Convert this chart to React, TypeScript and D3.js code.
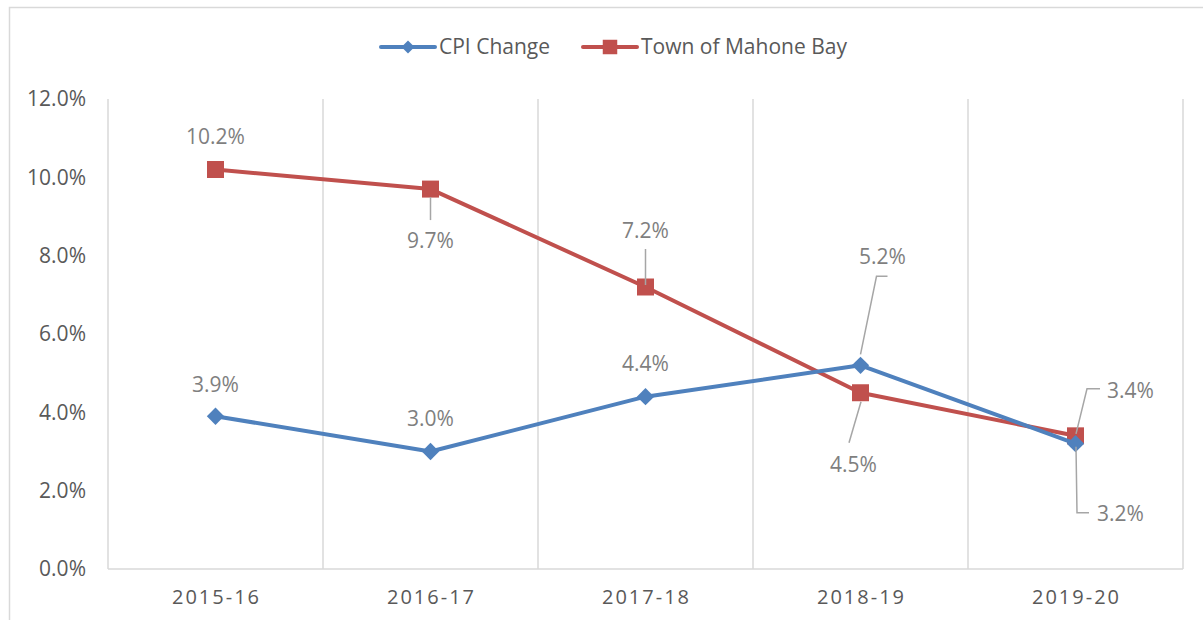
import React, { useRef, useEffect } from 'react';
import * as d3 from 'd3';

const years = ['2015-16', '2016-17', '2017-18', '2018-19', '2019-20'];
const cpiChange = [3.9, 3.0, 4.4, 5.2, 3.2];
const mahoneBay = [10.2, 9.7, 7.2, 4.5, 3.4];
const yTicks = [0, 2, 4, 6, 8, 10, 12];

// label placement relative to each point (text centre + leader polyline)
const cpiLabels = [
  { dx: 0, dy: -32, leader: null },
  { dx: 0, dy: -33, leader: null },
  { dx: 0, dy: -33, leader: null },
  { dx: 22, dy: -109, leader: [[0, -11], [16, -89], [27, -89]] },
  { dx: 45, dy: 70, leader: [[0.5, 3], [1.5, 69], [13.5, 69]] },
];
const townLabels = [
  { dx: 0, dy: -33, leader: null },
  { dx: 0, dy: 52, leader: [[0, 8], [0, 31]] },
  { dx: 0, dy: -56, leader: [[0, -38], [0, -2]] },
  { dx: -7, dy: 72, leader: [[0.5, 9], [-11.5, 50]] },
  { dx: 55, dy: -45, leader: [[0.5, -2], [11.5, -47], [24.5, -47]] },
];

const BLUE = '#4F81BD';
const RED = '#C0504D';
const FONT = '"Open Sans", sans-serif';

const App = () => {
  const svgRef = useRef(null);

  useEffect(() => {
    const width = 1203;
    const height = 620;
    const left = 108;
    const right = 1183;
    const top = 99;
    const bottom = 569;

    const svg = d3.select(svgRef.current);
    svg.selectAll('*').remove();
    svg.attr('width', width).attr('height', height);

    svg
      .append('rect')
      .attr('x', 9.5)
      .attr('y', 7.5)
      .attr('width', 1300)
      .attr('height', 700)
      .attr('fill', '#fff')
      .attr('stroke', '#D9D9D9')
      .attr('stroke-width', 1.5);

    const xScale = d3.scaleBand().domain(years).range([left, right]).padding(0);
    const yScale = d3.scaleLinear().domain([0, 12]).range([bottom, top]);
    const cx = (i) => xScale(years[i]) + xScale.bandwidth() / 2;

    // vertical gridlines at category boundaries
    const bounds = years.map((y) => xScale(y)).concat([right]);
    svg
      .selectAll('.vgrid')
      .data(bounds)
      .join('line')
      .attr('x1', (d) => d)
      .attr('x2', (d) => d)
      .attr('y1', top)
      .attr('y2', bottom)
      .attr('stroke', '#D9D9D9')
      .attr('stroke-width', 1.5);
    svg
      .append('line')
      .attr('x1', left)
      .attr('x2', right)
      .attr('y1', bottom)
      .attr('y2', bottom)
      .attr('stroke', '#D9D9D9')
      .attr('stroke-width', 1.5);

    // y tick labels
    svg
      .selectAll('.ytick')
      .data(yTicks)
      .join('text')
      .attr('x', 86)
      .attr('y', (d) => yScale(d))
      .attr('dy', '0.35em')
      .attr('text-anchor', 'end')
      .attr('font-family', FONT)
      .attr('font-size', 21)
      .attr('fill', '#595959')
      .text((d) => d.toFixed(1) + '%');

    // x labels
    svg
      .selectAll('.xtick')
      .data(years)
      .join('text')
      .attr('x', (d, i) => cx(i) + 1)
      .attr('y', 597)
      .attr('dy', '0.35em')
      .attr('text-anchor', 'middle')
      .attr('font-family', FONT)
      .attr('font-size', 20)
      .attr('letter-spacing', 2)
      .attr('fill', '#595959')
      .text((d) => d);

    const line = d3
      .line()
      .x((d, i) => cx(i))
      .y((d) => yScale(d));

    const diamond = d3.symbol().type(d3.symbolSquare).size(150);
    const square = d3.symbol().type(d3.symbolSquare).size(289);

    const drawSeries = (vals, color, sym, rotate) => {
      svg
        .append('path')
        .datum(vals)
        .attr('d', line)
        .attr('fill', 'none')
        .attr('stroke', color)
        .attr('stroke-width', 4)
        .attr('stroke-linejoin', 'round')
        .attr('stroke-linecap', 'round');
      svg
        .append('g')
        .selectAll('path')
        .data(vals)
        .join('path')
        .attr('d', sym)
        .attr('transform', (d, i) => `translate(${cx(i)},${yScale(d)}) rotate(${rotate})`)
        .attr('fill', color);
    };

    const drawLabels = (vals, labels) => {
      const g = svg.append('g');
      vals.forEach((v, i) => {
        const px = cx(i);
        const py = yScale(v);
        const lab = labels[i];
        if (lab.leader) {
          g.append('path')
            .attr('d', d3.line()(lab.leader.map((p) => [px + p[0], py + p[1]])))
            .attr('fill', 'none')
            .attr('stroke', '#A6A6A6')
            .attr('stroke-width', 1.5);
        }
        g.append('text')
          .attr('x', px + lab.dx)
          .attr('y', py + lab.dy)
          .attr('dy', '0.35em')
          .attr('text-anchor', 'middle')
          .attr('font-family', FONT)
          .attr('font-size', 21)
          .attr('fill', '#7F7F7F')
          .text(v.toFixed(1) + '%');
      });
    };

    drawSeries(mahoneBay, RED, square, 0);
    drawSeries(cpiChange, BLUE, diamond, 45);
    drawLabels(cpiChange, cpiLabels);
    drawLabels(mahoneBay, townLabels);

    // legend
    const legend = [
      { name: 'CPI Change', color: BLUE, x: 381, sym: d3.symbol().type(d3.symbolSquare).size(85), rot: 45 },
      { name: 'Town of Mahone Bay', color: RED, x: 583, sym: d3.symbol().type(d3.symbolSquare).size(210), rot: 0 },
    ];
    const lg = svg.append('g');
    legend.forEach((l) => {
      lg.append('line')
        .attr('x1', l.x)
        .attr('x2', l.x + 54)
        .attr('y1', 47)
        .attr('y2', 47)
        .attr('stroke', l.color)
        .attr('stroke-width', 4)
        .attr('stroke-linecap', 'round');
      lg.append('path')
        .attr('d', l.sym)
        .attr('transform', `translate(${l.x + 27},47) rotate(${l.rot})`)
        .attr('fill', l.color);
      lg.append('text')
        .attr('x', l.x + 58)
        .attr('y', 47)
        .attr('dy', '0.35em')
        .attr('font-family', FONT)
        .attr('font-size', 21)
        .attr('fill', '#595959')
        .text(l.name);
    });
  }, []);

  return (
    <div style={{ position: 'absolute', left: 0, top: 0 }}>
      <svg ref={svgRef} style={{ display: 'block' }}></svg>
    </div>
  );
};

export default App;
